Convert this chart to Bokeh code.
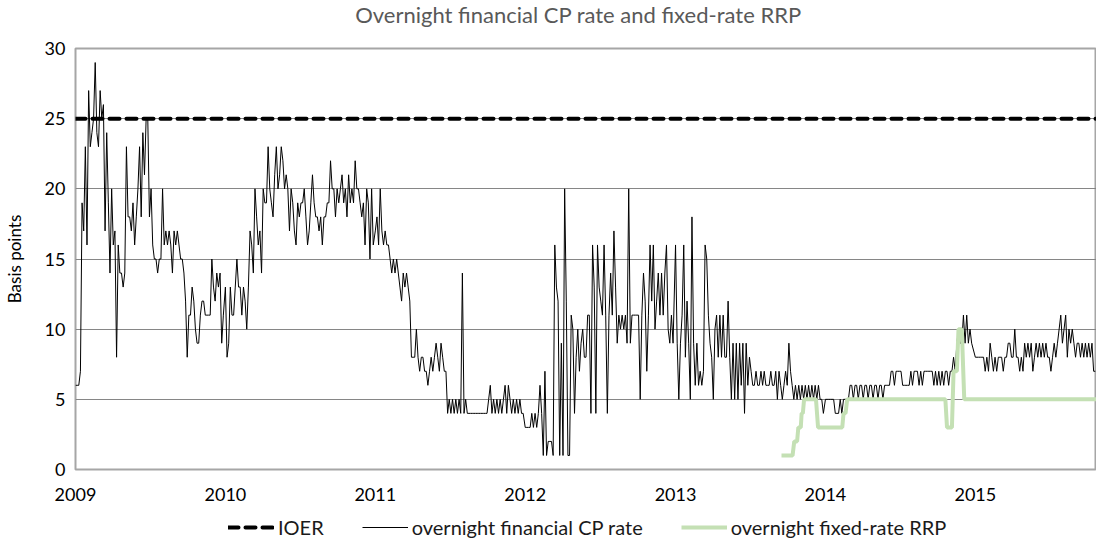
import numpy as np
from bokeh.plotting import figure
from bokeh.layouts import column
from bokeh.models import (ColumnDataSource, Legend, LegendItem, FixedTicker,
                          DatetimeTickFormatter, Range1d, Label)
from bokeh.embed import file_html
from bokeh.resources import INLINE

# ---------------- data ----------------
title_text = "Overnight financial CP rate and fixed-rate RRP"
y_label = "Basis points"
year_ticks = [2009, 2010, 2011, 2012, 2013, 2014, 2015]
y_ticks = [0, 5, 10, 15, 20, 25, 30]
x_start = "2009-01-01"
x_end = "2015-10-23"
cp_step_days = 4  # readings spaced about every 4 days within each year

cp_2009 = [6, 6, 6, 7, 19, 17, 23, 16, 27, 23,
           24, 25, 29, 24, 23, 27, 25, 26, 17, 24,
           19, 14, 20, 16, 17, 8, 16, 14, 14, 13,
           14, 23, 18, 18, 17, 19, 16, 18, 20, 23,
           18, 24, 21, 25, 25, 18, 20, 16, 15, 15,
           14, 15, 15, 20, 16, 17, 16, 17, 16, 14,
           17, 16, 17, 16, 15, 15, 14, 12, 8, 11,
           11, 13, 12, 10, 9, 9, 11, 12, 12, 11,
           11, 11, 11, 15, 13, 12, 14, 13, 14, 9,
           11]
cp_2010 = [13, 8, 9, 13, 11, 11, 13, 15, 13, 13,
           11, 13, 12, 10, 13, 17, 16, 14, 20, 18,
           16, 17, 14, 20, 19, 19, 23, 20, 19, 18,
           21, 23, 20, 21, 23, 22, 20, 21, 20, 17,
           20, 19, 17, 16, 19, 18, 19, 19, 20, 18,
           16, 17, 19, 21, 19, 18, 18, 17, 18, 16,
           18, 18, 19, 19, 22, 20, 20, 18, 20, 19,
           20, 21, 19, 20, 18, 21, 19, 20, 19, 22,
           20, 20, 19, 18, 19, 16, 20, 19, 15, 20,
           16]
cp_2011 = [17, 18, 16, 20, 17, 16, 17, 16, 16, 15,
           14, 15, 14, 15, 14, 13, 12, 14, 13, 14,
           13, 12, 8,
           8, 8, 10, 8, 7, 8, 8, 7, 7, 6,
           7, 8, 7, 8, 9, 8, 7, 9, 8, 7,
           7, 4, 5, 4, 5, 4, 5, 4, 5, 4,
           14, 4, 5, 4, 4, 4, 4, 4, 4, 4,
           4, 4, 4, 4, 4, 4, 5, 6, 4, 5,
           4, 5, 4, 5, 4, 5, 6, 4, 6, 5,
           4, 5, 4, 5, 4, 5, 4, 4]
cp_2012 = [3, 3, 3, 3, 4, 3, 4, 3, 4, 6,
           4, 1, 7, 1, 2, 2, 2, 1, 16, 13,
           12, 1, 9, 1, 20, 12, 1, 1, 11, 10,
           4, 8, 10, 7,
           9, 10, 8, 8, 11, 11, 4, 16, 13, 4,
           16, 13, 12, 11, 16, 11, 4, 11, 14, 11,
           17, 13, 9, 11, 10, 11, 10, 11, 9, 20,
           9, 11, 11, 11, 11, 11, 5, 11, 14, 12,
           7, 11, 16, 12, 16, 10, 12, 14, 11, 14,
           11, 14, 16, 10, 9, 11, 9]
cp_2013 = [16, 9, 5, 9, 11, 16, 8, 12, 9, 5,
           18, 9, 6, 9, 6, 7, 6, 7, 16, 15,
           11, 9, 8, 5, 10, 11, 8, 11, 8, 11,
           8, 8, 12, 8, 5, 9, 5, 9, 5, 9,
           6, 9, 4, 9, 6,
           8, 7, 6, 6, 7, 6, 6, 7, 6, 7,
           6, 6, 6, 7, 6, 6, 7, 5, 7, 6,
           5, 6, 7, 6, 9, 7, 6, 5, 6, 5,
           6, 5, 6, 5, 6, 5, 6, 5, 6, 5,
           6, 5, 6, 5, 5, 4]
cp_2014 = [5, 5, 5, 5, 5, 5, 4, 4, 4, 5,
           4, 5, 5, 5, 5, 6, 6, 5, 6, 6,
           5, 6, 6, 5, 6, 6, 5, 6, 6, 5,
           6, 6, 5, 6, 6, 5, 6, 6, 6, 6,
           7, 7, 6, 7, 7, 7, 7, 6, 6, 6,
           6, 6, 7, 6, 7, 7,
           7, 6, 7, 6, 7, 7, 7, 7, 7, 7,
           6, 7, 6, 7, 6, 7, 6, 7, 7, 6,
           7, 7, 8, 7, 9, 10, 9, 9, 11, 9,
           11, 9, 10, 9]
cp_2015 = [8, 8, 8, 8, 8, 8, 7, 8, 7, 9,
           8, 7, 8, 7, 8, 8, 8, 7, 8, 8,
           9, 9, 8, 8, 10, 8, 8, 7, 8, 7,
           9, 8, 9, 8, 9, 7, 8, 9, 8, 9,
           8, 9, 8, 9, 8, 8, 7, 8, 9, 8,
           9, 10, 11, 9, 10, 11, 8, 10, 9, 10,
           9, 8, 9, 9, 8, 9, 8, 9, 8, 9,
           8, 9, 7, 7]
cp_by_year = {2009: cp_2009, 2010: cp_2010, 2011: cp_2011, 2012: cp_2012,
              2013: cp_2013, 2014: cp_2014, 2015: cp_2015}

rrp_dates = ["2013-09-16", "2013-10-13", "2013-10-17", "2013-10-24", "2013-10-27",
             "2013-11-02", "2013-11-04", "2013-11-07", "2013-11-10", "2013-12-09",
             "2013-12-14", "2014-02-11", "2014-02-14", "2014-02-19", "2014-02-23",
             "2014-10-20", "2014-10-24", "2014-11-05", "2014-11-09", "2014-11-17",
             "2014-11-21", "2014-11-29", "2014-12-05", "2015-10-22"]
rrp_values = [1, 1, 2, 2, 3,
              3, 4, 4, 5, 5,
              3, 3, 4, 4, 5,
              5, 3, 3, 7, 7,
              10, 10, 5, 5]

ioer_dates = [x_start, x_end]
ioer_values = [25, 25]

series_labels = ["IOER", "overnight financial CP rate", "overnight fixed-rate RRP"]

# ---------------- build sources ----------------
cp_x, cp_y = [], []
for yr, vals in cp_by_year.items():
    start = np.datetime64(f"{yr}-01-01", "D")
    cp_x.extend(start + np.arange(len(vals)) * np.timedelta64(cp_step_days, "D"))
    cp_y.extend(vals)
cp_src = ColumnDataSource(dict(x=np.array(cp_x, dtype="datetime64[ms]"), y=cp_y))
rrp_src = ColumnDataSource(dict(x=np.array(rrp_dates, dtype="datetime64[ms]"), y=rrp_values))
ioer_src = ColumnDataSource(dict(x=np.array(ioer_dates, dtype="datetime64[ms]"), y=ioer_values))


def ms(d):
    return float(np.datetime64(d, "ms").astype(np.int64))


FONT = "Lato"
W = 1096

# ---------------- title strip ----------------
title_fig = figure(width=W, height=34, output_backend="svg", toolbar_location=None,
                   x_range=Range1d(0, 1), y_range=Range1d(0, 1), min_border=0,
                   x_axis_location=None, y_axis_location=None, outline_line_color=None)
title_fig.grid.visible = False
title_fig.add_layout(Label(x=503, y=20, x_units="screen", y_units="screen",
                           text=title_text, text_align="center", text_baseline="middle",
                           text_font=FONT, text_font_size="22px", text_color="#595959"))

# ---------------- main chart ----------------
p = figure(width=W, height=478, x_axis_type="datetime",
           output_backend="svg", toolbar_location=None,
           x_range=Range1d(ms(x_start), ms(x_end)), y_range=Range1d(0, 30),
           min_border_left=71, min_border_right=0, min_border_top=14,
           min_border_bottom=43)

p.background_fill_color = "white"
p.border_fill_color = "white"
p.outline_line_color = "#a6a6a6"
p.outline_line_width = 2

p.xgrid.visible = False
p.ygrid.ticker = FixedTicker(ticks=y_ticks)
p.ygrid.grid_line_color = "#868686"
p.ygrid.grid_line_width = 1

p.yaxis.ticker = FixedTicker(ticks=y_ticks)
p.xaxis.ticker = FixedTicker(ticks=[ms(f"{y}-01-01") for y in year_ticks])
p.xaxis.formatter = DatetimeTickFormatter(
    microseconds="%Y", milliseconds="%Y", seconds="%Y", minsec="%Y",
    minutes="%Y", hourmin="%Y", hours="%Y", days="%Y", months="%Y", years="%Y")

for ax in (p.xaxis[0], p.yaxis[0]):
    ax.axis_line_color = None
    ax.major_tick_line_color = None
    ax.minor_tick_line_color = None
    ax.major_tick_out = 0
    ax.major_tick_in = 0
    ax.minor_tick_out = 0
    ax.major_label_text_font = FONT
    ax.major_label_text_font_size = "18px"
    ax.major_label_text_color = "#000000"

p.xaxis.major_label_standoff = 18
p.yaxis.major_label_standoff = 10
p.yaxis.axis_label = y_label
p.yaxis.axis_label_text_font = FONT
p.yaxis.axis_label_text_font_style = "normal"
p.yaxis.axis_label_text_font_size = "17px"
p.yaxis.axis_label_text_color = "#000000"
p.yaxis.axis_label_standoff = 17


def draw_series(fig):
    cp = fig.line("x", "y", source=cp_src, line_color="black", line_width=1)
    rrp = fig.line("x", "y", source=rrp_src, line_color="#c4e0b4", line_width=4)
    ioer = fig.line("x", "y", source=ioer_src, line_color="black", line_width=4,
                    line_dash="10 7", line_cap="round")
    return ioer, cp, rrp


draw_series(p)

# ---------------- legend strip (its lines fall outside its own y range) ----------------
leg_fig = figure(width=W, height=28, x_axis_type="datetime",
                 output_backend="svg", toolbar_location=None,
                 x_range=Range1d(ms(x_start), ms(x_end)), y_range=Range1d(100, 101),
                 min_border=0, x_axis_location=None, y_axis_location=None,
                 outline_line_color=None)
leg_fig.grid.visible = False
leg_renderers = draw_series(leg_fig)

legend = Legend(items=[LegendItem(label=lab, renderers=[r])
                       for lab, r in zip(series_labels, leg_renderers)],
                orientation="horizontal", location=(153, 1),
                glyph_width=46, glyph_height=22, label_standoff=4, spacing=38,
                label_text_font=FONT, label_text_font_size="20px",
                label_text_color="#1a1a1a", border_line_alpha=0,
                background_fill_alpha=0, padding=0, margin=0)
leg_fig.add_layout(legend, "center")

open("out.html", "w").write(file_html(column(title_fig, p, leg_fig, spacing=0), INLINE))
